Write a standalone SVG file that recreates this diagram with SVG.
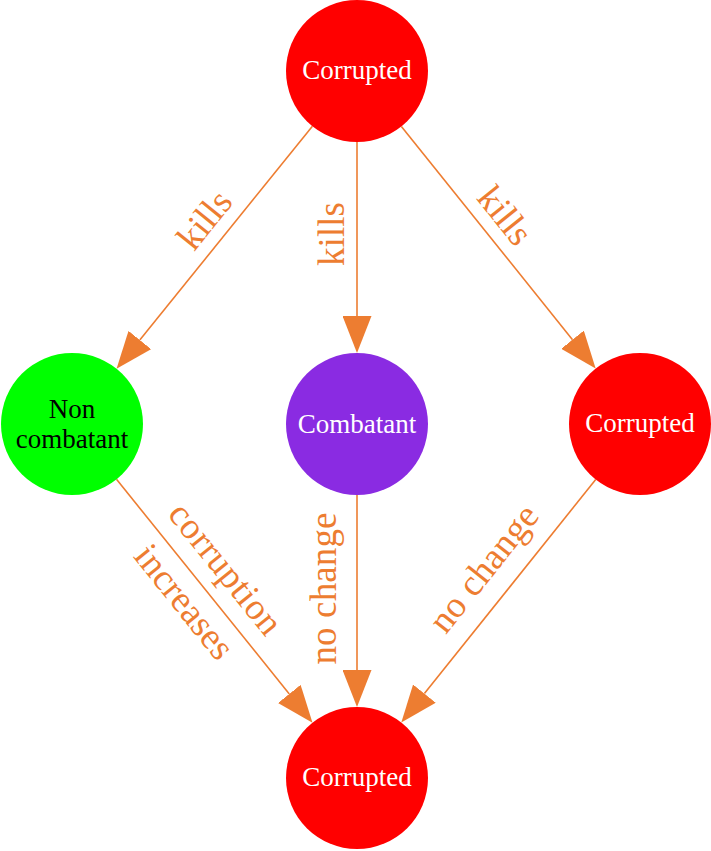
<svg xmlns="http://www.w3.org/2000/svg" width="711" height="851" viewBox="0 0 711 851">
<style>
.edge{stroke:#ED7D31;stroke-width:1.6;fill:none;marker-end:url(#ah)}
.el{font-family:"Liberation Serif","DejaVu Serif",serif;font-size:37px;fill:#ED7D31;text-anchor:middle}
.nl{font-family:"Liberation Serif","DejaVu Serif",serif;font-size:27px;text-anchor:middle}
.w{fill:#fff}
.b{fill:#000}
</style>
<defs>
<marker id="ah" markerUnits="userSpaceOnUse" markerWidth="37" markerHeight="29" refX="0" refY="14.5" orient="auto">
<path d="M0,0 L37,14.5 L0,29 Z" fill="#ED7D31"/>
</marker>
</defs>
<rect width="711" height="851" fill="#fff"/>
<g id="connectors">
<path class="edge" d="M312.4,126.2 L139.8,340.0"/>
<path class="edge" d="M357,142 L357,316"/>
<path class="edge" d="M401.4,126.4 L572.5,339.7"/>
<path class="edge" d="M116.5,479.3 L289.3,693.9"/>
<path class="edge" d="M357,495 L357,670"/>
<path class="edge" d="M595.7,479.5 L424.4,693.6"/>
<text class="el" transform="translate(224.1,235.6) rotate(-51.1)" y="-13">kills</text>
<text class="el" transform="translate(357,234) rotate(-90)" y="-13">kills</text>
<text class="el" transform="translate(485.4,231.2) rotate(51.3)" y="-13">kills</text>
<text class="el" transform="translate(203,586.8) rotate(51.2)"><tspan x="0" y="-17" textLength="158">corruption</tspan><tspan x="0" y="36">increases</tspan></text>
<text class="el" transform="translate(357,588.5) rotate(-90)" y="-21" textLength="152">no change</text>
<text class="el" transform="translate(508.8,588.3) rotate(-51.4)" y="-20" textLength="152">no change</text>
</g>
<g id="top">
<circle cx="357" cy="71" r="71" fill="#FF0000"/>
<text class="nl w" x="357" y="79">Corrupted</text>
</g>
<g id="noncombatant">
<circle cx="72" cy="424" r="71" fill="#00FF00"/>
<text class="nl b" x="72" y="418">Non</text>
<text class="nl b" x="72" y="448">combatant</text>
</g>
<g id="combatant">
<circle cx="357" cy="424" r="71" fill="#8A2BE2"/>
<text class="nl w" x="357" y="433">Combatant</text>
</g>
<g id="right">
<circle cx="640" cy="424" r="71" fill="#FF0000"/>
<text class="nl w" x="640" y="432">Corrupted</text>
</g>
<g id="bottom">
<circle cx="357" cy="778" r="71" fill="#FF0000"/>
<text class="nl w" x="357" y="786">Corrupted</text>
</g>
</svg>
